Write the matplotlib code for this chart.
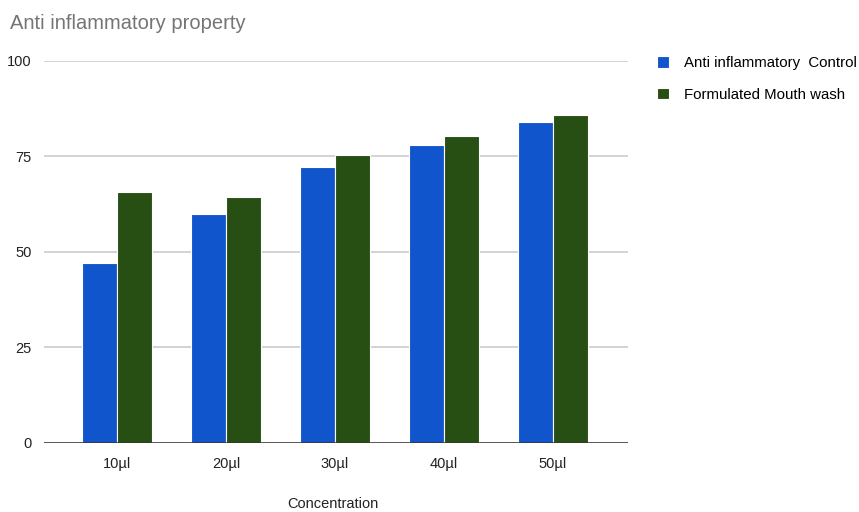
import numpy as np
from matplotlib import pyplot as plt

###--- Data ---###
concentrazioni=["10µl","20µl","30µl","40µl","50µl"]
controllo=[47.1,59.9,72.3,78.0,84.0]
collutorio=[65.7,64.4,75.4,80.4,85.9]
serie=["Anti inflammatory  Control","Formulated Mouth wash"]

plt.rcParams['font.family']=['Liberation Sans','DejaVu Sans']

fig=plt.figure(figsize=(8.59,5.12),dpi=100)
ax=fig.add_axes([0.0512,0.1348,0.6798,0.7462])

x=np.arange(len(concentrazioni))
w=0.32
ax.bar(x-w/2,controllo,w,color="#1155cc",edgecolor="white",linewidth=0.8,label=serie[0],zorder=3)
ax.bar(x+w/2,collutorio,w,color="#274e13",edgecolor="white",linewidth=0.8,label=serie[1],zorder=3)

ax.set_ylim(0,100)
ax.set_xlim(-0.67,4.69)
ax.set_yticks([0,25,50,75,100])
ax.set_xticks(x)
ax.set_xticklabels(concentrazioni)
ax.grid(axis='y',color="#cccccc",linewidth=1.2,zorder=0)
ax.axhline(0,color="#333333",linewidth=1.8,zorder=4)
for s in ax.spines.values():
    s.set_visible(False)
ax.tick_params(length=0,labelsize=10.5,colors="#222222")
ax.tick_params(axis='y',pad=9)
ax.tick_params(axis='x',pad=10)
fig.text(0.388,0.016,"Concentration",fontsize=10.5,color="#222222",ha='center',va='center')

fig.text(0.012,0.955,"Anti inflammatory property",fontsize=14.5,color="#757575",va='center')

ax.legend(loc='upper left',bbox_to_anchor=(1.026,1.048),frameon=False,fontsize=10.8,
          handlelength=0.85,handleheight=0.85,handletextpad=0.95,labelspacing=1.15)

plt.savefig("out.png",dpi=100)
